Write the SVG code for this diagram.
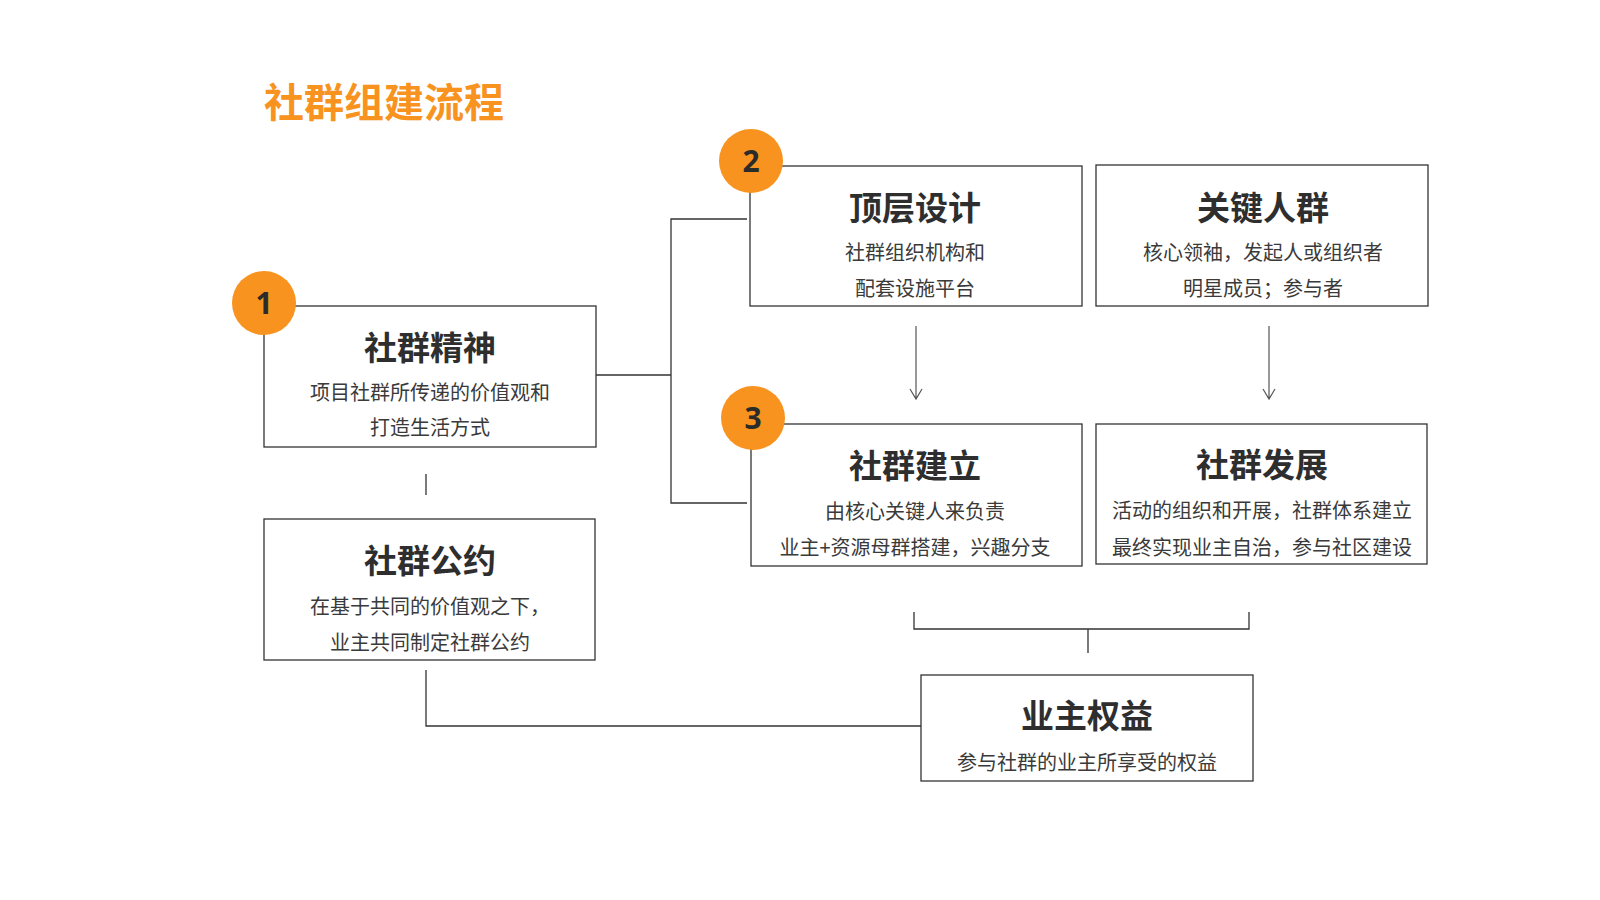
<svg xmlns="http://www.w3.org/2000/svg" width="1600" height="900" viewBox="0 0 1600 900">
<style>
.box{fill:#fff;stroke:#333;stroke-width:1.3}
.circ{fill:#F7931E}
.num{font-family:"Noto Sans","Liberation Sans",sans-serif;font-weight:700;font-size:30px;fill:#2b2b2b;text-anchor:middle}
.h{font-family:"Noto Sans CJK SC",sans-serif;font-weight:700;font-size:33px;fill:#2e2e2e;text-anchor:middle}
.s{font-family:"Noto Sans CJK SC",sans-serif;font-size:20px;fill:#3a3a3a;text-anchor:middle}
.ln{fill:none;stroke:#333;stroke-width:1.3}
.ar{fill:none;stroke:#555;stroke-width:1.2}
</style>
<rect width="1600" height="900" fill="#fff"/>
<text x="264" y="117" font-family="Noto Sans CJK SC,sans-serif" font-weight="700" font-size="40" fill="#F7931E">社群组建流程</text>
<g id="connectors">
<path class="ln" d="M596,375 H671 M747,219 H671 V503 H747"/>
<path class="ln" d="M426,474 V495"/>
<path class="ln" d="M426,670 V726 H921"/>
<path class="ln" d="M914,612 V629 H1249 V612 M1088,629 V653"/>
<path class="ar" d="M916,326 V399 M910,389 L916,399 L922,389"/>
<path class="ar" d="M1269,326 V399 M1263,389 L1269,399 L1275,389"/>
</g>
<g id="node1">
<rect class="box" x="264" y="306" width="332" height="141"/>
<circle class="circ" cx="264" cy="303" r="32"/>
<text class="num" x="264" y="314">1</text>
<text class="h" x="430" y="360">社群精神</text>
<text class="s" x="430" y="400">项目社群所传递的价值观和</text>
<text class="s" x="430" y="435">打造生活方式</text>
</g>
<g id="node2">
<rect class="box" x="750" y="166" width="332" height="140"/>
<circle class="circ" cx="751" cy="161" r="32"/>
<text class="num" x="751" y="172">2</text>
<text class="h" x="915" y="220">顶层设计</text>
<text class="s" x="915" y="260">社群组织机构和</text>
<text class="s" x="915" y="296">配套设施平台</text>
</g>
<g id="node-key">
<rect class="box" x="1096" y="165" width="332" height="141"/>
<text class="h" x="1263" y="220">关键人群</text>
<text class="s" x="1263" y="260">核心领袖，发起人或组织者</text>
<text class="s" x="1263" y="296">明星成员；参与者</text>
</g>
<g id="node3">
<rect class="box" x="751" y="424" width="331" height="142"/>
<circle class="circ" cx="753" cy="418" r="32"/>
<text class="num" x="753" y="429">3</text>
<text class="h" x="915" y="478">社群建立</text>
<text class="s" x="915" y="519">由核心关键人来负责</text>
<text class="s" x="915" y="555">业主+资源母群搭建，兴趣分支</text>
</g>
<g id="node-dev">
<rect class="box" x="1096" y="424" width="331" height="140"/>
<text class="h" x="1262" y="477">社群发展</text>
<text class="s" x="1262" y="518">活动的组织和开展，社群体系建立</text>
<text class="s" x="1262" y="555">最终实现业主自治，参与社区建设</text>
</g>
<g id="node-pact">
<rect class="box" x="264" y="519" width="331" height="141"/>
<text class="h" x="430" y="573">社群公约</text>
<text class="s" x="430" y="614">在基于共同的价值观之下，</text>
<text class="s" x="430" y="650">业主共同制定社群公约</text>
</g>
<g id="node-rights">
<rect class="box" x="921" y="675" width="332" height="106"/>
<text class="h" x="1087" y="728">业主权益</text>
<text class="s" x="1087" y="770">参与社群的业主所享受的权益</text>
</g>
</svg>
